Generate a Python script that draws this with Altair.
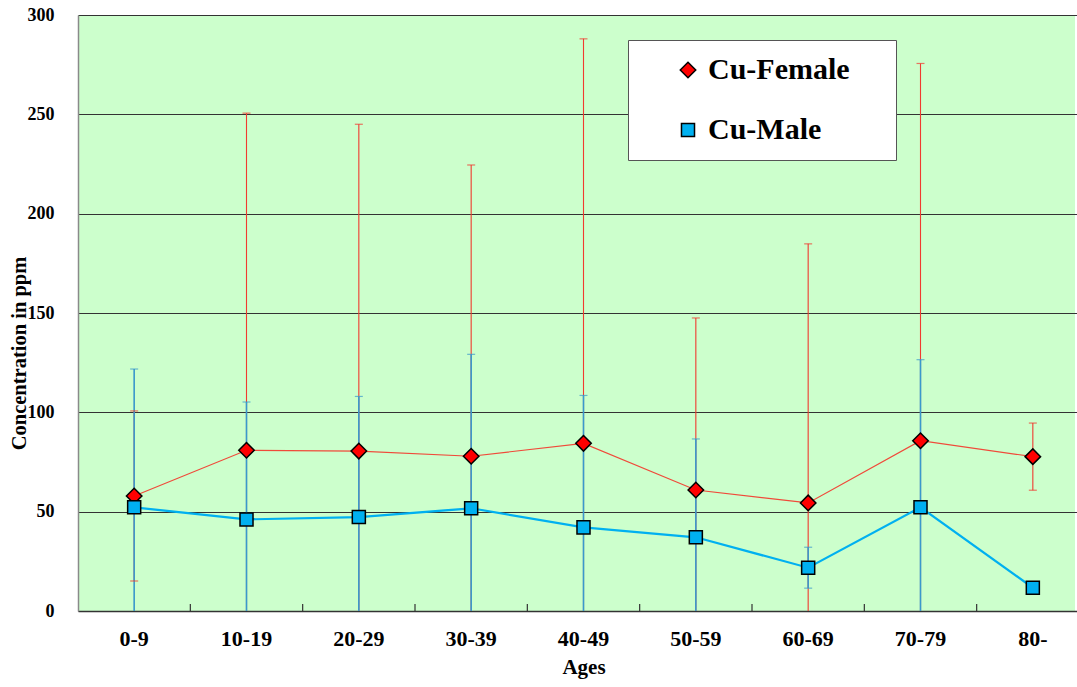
import altair as alt
import pandas as pd

ages = ["0-9", "10-19", "20-29", "30-39", "40-49", "50-59", "60-69", "70-79", "80-"]
female_mean = [57.9, 80.9, 80.5, 77.9, 84.4, 60.9, 54.4, 85.7, 77.7]
female_sd = [42.8, 169.7, 164.5, 146.6, 203.6, 86.6, 130.4, 189.9, 16.9]
male_mean = [52.2, 46.1, 47.3, 51.7, 42.1, 37.1, 21.8, 52.2, 11.7]
male_sd = [69.6, 59.1, 60.7, 77.5, 66.4, 49.5, 10.3, 74.3, 0.0]
series_names = ["Cu-Female", "Cu-Male"]

rows = []
for name, means, sds in [("Cu-Female", female_mean, female_sd), ("Cu-Male", male_mean, male_sd)]:
    for a, m, s in zip(ages, means, sds):
        lo = m - s
        rows.append({
            "age": a, "series": name, "mean": m, "sd": s,
            "low": max(lo, 0.0), "high": m + s,
            "lowcap": lo > 0 and s > 0, "has_err": s > 0,
        })
df = pd.DataFrame(rows)
ticks_df = pd.DataFrame({"age": ages[:-1]})

W, H = 997, 596
serif = "Liberation Serif"

xscale = alt.Scale(domain=ages, range=[0, 1011], paddingInner=0, paddingOuter=0)
yscale = alt.Scale(domain=[0, 300], nice=False)

x_axis = alt.Axis(title="Ages", labelFont=serif, labelFontWeight="bold", labelFontSize=22,
                  labelColor="black", labelAngle=0, labelPadding=17, ticks=False, tickSize=0,
                  domainColor="#333333", domainWidth=1.5, titleFont=serif, titleFontWeight="bold",
                  titleFontSize=21, titleColor="black", titlePadding=7, grid=False)
y_axis = alt.Axis(title="Concentration in ppm", values=[0, 50, 100, 150, 200, 250, 300],
                  labelFont=serif, labelFontWeight="bold", labelFontSize=18, labelColor="black",
                  labelPadding=24, ticks=False, tickSize=0, domainColor="#8a8a8a", domainWidth=1.5,
                  grid=True, gridColor="#333333", gridWidth=1.2,
                  titleFont=serif, titleFontWeight="bold", titleFontSize=20.5, titleColor="black",
                  titleX=-59, titleY=338, titleAngle=-90, titleAlign="center", titleBaseline="middle")

base = alt.Chart(df)
X = alt.X("age:N", scale=xscale, axis=x_axis, sort=ages)
is_f = "datum.series == 'Cu-Female'"

err_color = alt.condition(is_f, alt.value("#f03a30"), alt.value("#3a98cc"))

female_err = base.transform_filter(is_f + " && datum.has_err").mark_rule(strokeWidth=1.1).encode(
    x=X, y=alt.Y("low:Q", scale=yscale, axis=y_axis), y2="high:Q", color=err_color)
male_err = base.transform_filter("datum.series == 'Cu-Male' && datum.has_err").mark_rule(strokeWidth=1.6).encode(
    x=X, y=alt.Y("low:Q", scale=yscale), y2="high:Q", color=err_color)
caps_hi = base.transform_filter("datum.has_err").mark_tick(size=8, thickness=1.2).encode(
    x=X, y=alt.Y("high:Q", scale=yscale), color=err_color)
caps_lo = base.transform_filter("datum.lowcap").mark_tick(size=8, thickness=1.2).encode(
    x=X, y=alt.Y("low:Q", scale=yscale), color=err_color)

lines = base.mark_line().encode(
    x=X, y=alt.Y("mean:Q", scale=yscale),
    stroke=alt.condition(is_f, alt.value("#f04a3a"), alt.value("#00b0f0")),
    strokeWidth=alt.condition(is_f, alt.value(1.2), alt.value(2.2)),
    detail="series:N")

leg = alt.Legend(title="n", titleOrient="right", titleColor="rgba(0,0,0,0)", titleFontSize=30,
                 titlePadding=12, symbolStrokeWidth=1.5)
points = base.mark_point(filled=True, strokeWidth=1.5, opacity=1).encode(
    x=X, y=alt.Y("mean:Q", scale=yscale),
    fill=alt.Fill("series:N", scale=alt.Scale(domain=series_names, range=["#ff0000", "#00b0f0"]), legend=leg),
    stroke=alt.Stroke("series:N", scale=alt.Scale(domain=series_names, range=["#000000", "#000000"]), legend=leg),
    shape=alt.Shape("series:N", scale=alt.Scale(domain=series_names, range=["diamond", "square"]), legend=leg),
    size=alt.Size("series:N", scale=alt.Scale(domain=series_names, range=[240, 170]), legend=leg))

xticks = alt.Chart(ticks_df).mark_rule(color="#333333", strokeWidth=1.2).encode(
    x=alt.X("age:N", scale=xscale, sort=ages, bandPosition=1),
    y=alt.value(H - 7), y2=alt.value(H))

chart = alt.layer(female_err, male_err, caps_hi, caps_lo, lines, points, xticks).properties(
    width=W, height=H,
    autosize=alt.AutoSizeParams(type="none"),
    padding={"left": 78, "top": 15, "right": 2, "bottom": 76},
    background="white",
).configure_view(fill="#ccffcc", stroke=None).configure_legend(
    orient="none", legendX=550, legendY=25, fillColor="white", strokeColor="#555555",
    padding=15,
    labelFont=serif, labelFontWeight="bold", labelFontSize=30, labelColor="black",
    rowPadding=30, symbolOffset=30, labelOffset=5, labelLimit=400,
)

chart.save("out.html", embed_options={"renderer": "svg", "actions": False})
